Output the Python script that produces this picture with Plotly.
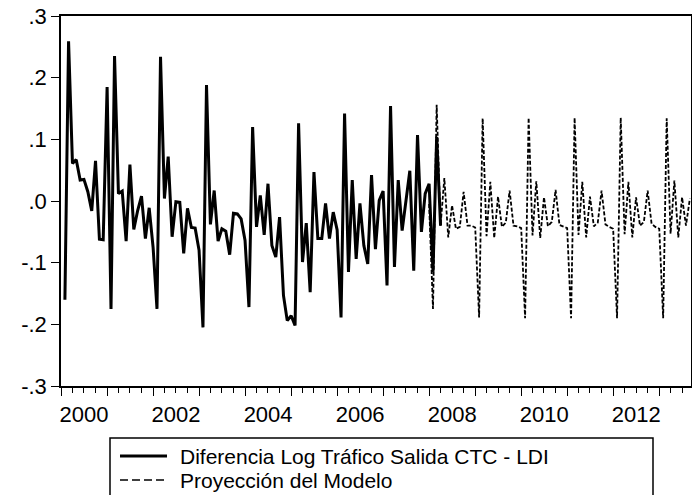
import pandas as pd
import plotly.graph_objects as go

# ---- data (monthly, log-difference) ----
actual_start = "2000-02-01"
actual_values = [
    -0.160, 0.259, 0.061, 0.067, 0.034, 0.035, 0.015, -0.016, 0.065, -0.062, -0.063,
    0.185, -0.175, 0.235, 0.012, 0.016, -0.065, 0.059, -0.046, -0.015, 0.008, -0.061, -0.011,
    -0.075, -0.175, 0.234, 0.004, 0.072, -0.058, -0.001, -0.002, -0.085, -0.012, -0.043, -0.044,
    -0.080, -0.205, 0.188, -0.038, 0.017, -0.065, -0.045, -0.049, -0.087, -0.020, -0.021, -0.029,
    -0.064, -0.172, 0.120, -0.042, 0.009, -0.055, 0.028, -0.072, -0.091, -0.026, -0.153, -0.194,
    -0.186, -0.202, 0.126, -0.099, -0.036, -0.148, 0.047, -0.061, -0.061, -0.004, -0.061, -0.018,
    -0.047, -0.189, 0.142, -0.115, 0.034, -0.094, -0.004, -0.072, -0.102, 0.042, -0.078, 0.001,
    0.016, -0.137, 0.154, -0.107, 0.034, -0.048, -0.002, 0.049, -0.113, 0.107, -0.050, 0.012,
    0.028, -0.115, 0.104, -0.040,
]

forecast_start = "2008-01-01"
forecast_values = [
    -0.005, -0.175, 0.156, -0.040, 0.037, -0.059, -0.007, -0.045, -0.042, 0.015, -0.040, -0.040,
    -0.043, -0.189, 0.134, -0.057, 0.031, -0.060, 0.007, -0.042, -0.035, 0.017, -0.040, -0.041,
    -0.044, -0.190, 0.135, -0.056, 0.032, -0.060, 0.006, -0.041, -0.034, 0.018, -0.039, -0.041,
    -0.044, -0.190, 0.135, -0.055, 0.031, -0.059, 0.007, -0.041, -0.035, 0.017, -0.038, -0.042,
    -0.045, -0.190, 0.135, -0.054, 0.031, -0.059, 0.006, -0.040, -0.034, 0.017, -0.037, -0.042,
    -0.045, -0.190, 0.134, -0.053, 0.033, -0.059, 0.006, -0.040, 0.004,
]

series_names = ["Diferencia Log Tráfico Salida CTC - LDI", "Proyección del Modelo"]
y_tick_values = [-0.3, -0.2, -0.1, 0.0, 0.1, 0.2, 0.3]
y_tick_labels = ["-.3", "-.2", "-.1", ".0", ".1", ".2", ".3"]
hidden_year_labels = {str(y): " " for y in range(1999, 2015, 2)}

actual_dates = pd.date_range(actual_start, periods=len(actual_values), freq="MS")
forecast_dates = pd.date_range(forecast_start, periods=len(forecast_values), freq="MS")

FONT = "Liberation Sans, Arial, sans-serif"
W, H = 692, 495
ML, MR, MT, MB = 61, 1, 16, 109
PW, PH = W - ML - MR, H - MT - MB

def px_x(p):
    return (p - ML) / PW

def px_y(p):
    return (H - MB - p) / PH

solid_style = dict(color="black", width=3)
dash_style = dict(color="black", width=1.8, dash="4px,2px")

fig = go.Figure()
fig.add_trace(go.Scatter(x=actual_dates, y=actual_values, mode="lines",
                         name=series_names[0], line=solid_style))
fig.add_trace(go.Scatter(x=forecast_dates, y=forecast_values, mode="lines",
                         name=series_names[1], line=dash_style))

# ---- legend box (EViews style, below the plot) ----
LEG_Y = [456, 480]
shapes = [
    dict(type="rect", xref="paper", yref="paper",
         x0=px_x(110), x1=px_x(653), y0=px_y(505), y1=px_y(438),
         line=dict(color="black", width=1.5), fillcolor="rgba(0,0,0,0)", layer="above"),
    dict(type="line", xref="paper", yref="paper",
         x0=px_x(120), x1=px_x(167), y0=px_y(LEG_Y[0]), y1=px_y(LEG_Y[0]),
         line=dict(color="black", width=3)),
    dict(type="line", xref="paper", yref="paper",
         x0=px_x(120), x1=px_x(167), y0=px_y(LEG_Y[1]), y1=px_y(LEG_Y[1]),
         line=dict(color="black", width=1.3, dash="8px,4px")),
]
annotations = [
    dict(text=series_names[i], xref="paper", yref="paper", x=px_x(179), y=px_y(LEG_Y[i]),
         xanchor="left", yanchor="middle", showarrow=False, borderpad=0,
         font=dict(family=FONT, size=21, color="black"))
    for i in range(2)
]

fig.update_layout(
    width=W, height=H,
    margin=dict(l=ML, r=MR, t=MT, b=MB, autoexpand=False),
    paper_bgcolor="white", plot_bgcolor="white",
    font=dict(family=FONT, color="black", size=22),
    showlegend=False,
    shapes=shapes,
    annotations=annotations,
    xaxis=dict(
        type="date",
        range=["2000-01-01", "2013-09-10"],
        showline=True, linecolor="black", linewidth=1.5, mirror=True,
        showgrid=False, zeroline=False,
        ticks="outside", ticklen=8, tickwidth=1.2, tickcolor="black",
        dtick="M12", tick0="2000-01-01", tickformat="%Y",
        ticklabelmode="period", labelalias=hidden_year_labels,
        tickfont=dict(family=FONT, size=22, color="black"),
        minor=dict(dtick="M3", ticks="outside", ticklen=5, tickwidth=1.2,
                   tickcolor="black", showgrid=False),
    ),
    yaxis=dict(
        range=[-0.3, 0.3],
        tickmode="array", tickvals=y_tick_values, ticktext=y_tick_labels,
        showline=True, linecolor="black", linewidth=1.5, mirror=True,
        showgrid=False, zeroline=False,
        ticks="outside", ticklen=8, tickwidth=1.2, tickcolor="black",
        tickfont=dict(family=FONT, size=22, color="black"),
    ),
)

fig.write_html("out.html")
